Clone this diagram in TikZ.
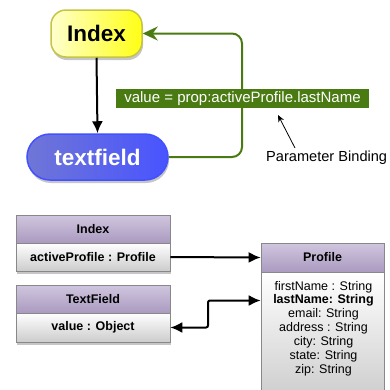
\documentclass[tikz,border=0pt]{standalone}
\usepackage{fontspec}
\setmainfont{Liberation Sans}
\usetikzlibrary{shadows,arrows.meta,calc}
\definecolor{bindgreen}{RGB}{74,122,18}
\definecolor{yelborder}{RGB}{196,196,70}
\definecolor{yelleft}{RGB}{255,255,205}
\definecolor{yelright}{RGB}{255,255,20}
\definecolor{blueleft}{RGB}{112,118,214}
\definecolor{blueright}{RGB}{72,84,255}
\definecolor{blueborder}{RGB}{66,80,255}
\definecolor{headtop}{RGB}{208,198,222}
\definecolor{headbot}{RGB}{170,154,192}
\definecolor{bodybot}{RGB}{204,204,204}
\definecolor{boxborder}{RGB}{136,136,136}
\tikzset{
  shad/.style={drop shadow={opacity=0.45, shadow xshift=1pt, shadow yshift=-3pt}},
  yelnode/.style={shad, draw=yelborder, line width=1.5pt, left color=yelleft, right color=yelright,
    rounded corners=15pt, minimum width=91pt, minimum height=47pt, inner sep=0pt,
    font=\bfseries\fontsize{22.5}{26}\selectfont},
  bluenode/.style={shad, draw=blueborder, line width=1.5pt, left color=blueleft, right color=blueright,
    rounded corners=23pt, minimum width=141pt, minimum height=46pt, inner sep=0pt, text=white,
    font=\bfseries\fontsize{22.5}{26}\selectfont},
  bindlabel/.style={fill=bindgreen, text=white, minimum width=253pt, minimum height=19pt, inner sep=0pt,
    font=\fontsize{15}{17}\selectfont},
  umlhead/.style={shad, draw=boxborder, line width=0.6pt, top color=headtop, bottom color=headbot,
    minimum width=154pt, minimum height=28pt, inner sep=0pt, font=\bfseries\fontsize{12.5}{14}\selectfont},
  umlbody/.style={shad, draw=boxborder, line width=0.6pt, top color=white, bottom color=bodybot,
    minimum width=154pt, minimum height=28pt, inner sep=0pt, font=\bfseries\fontsize{12.5}{14}\selectfont},
  attr/.style={inner sep=0pt, font=\fontsize{12.5}{14}\selectfont},
  blackarrow/.style={line width=2pt, -{Latex[length=12pt,width=11pt]}},
}
\begin{document}
\begin{tikzpicture}[x=1pt,y=-1pt]
\useasboundingbox (0,0) rectangle (390,389);
% top graph
\node[yelnode] (idx) at (96.5,33.5) {Index};
\node[bluenode] (tf) at (97.5,157) {textfield};
\draw[blackarrow] (idx.south) -- (tf.north);
\coordinate (cB) at (242,33.5);
\draw[bindgreen, line width=2pt, rounded corners=10pt, -{Stealth[length=15pt,width=14pt,inset=5pt]}]
  (tf.east) -| (cB) -- (idx.east);
\node[bindlabel] (lbl) at (242.5,98.5) {value = prop:activeProfile.lastName};
\node[anchor=west, inner sep=0pt, font=\fontsize{14.6}{17}\selectfont] (pbtext) at (266,158) {Parameter Binding};
\coordinate (pbtail) at (295,148);
\coordinate (pbhead) at (278,115);
\draw[line width=0.8pt, -{Stealth[length=7pt,width=6pt]}] (pbtail) -- (pbhead);
% UML boxes
\node[umlhead] (ih) at (93,229) {Index};
\node[umlbody, minimum height=28pt] (ib) at (93,257) {activeProfile : Profile};
\node[umlhead] (th) at (93,299) {TextField};
\node[umlbody, minimum height=29pt] (tb) at (93,327.5) {value : Object};
\node[umlhead, minimum width=123pt, minimum height=29pt] (ph) at (322.5,257.5) {Profile};
\node[umlbody, minimum width=123pt, minimum height=128pt] (pb) at (322.5,336) {};
\node[attr] (p1) at (323.5,287) {firstName : String};
\node[attr, font=\bfseries\fontsize{12.5}{14}\selectfont] (p2) at (323.5,300.5) {lastName: String};
\node[attr] (p3) at (323.5,314.5) {email: String};
\node[attr] (p4) at (323.5,328.5) {address : String};
\node[attr] (p5) at (323.5,342.5) {city: String};
\node[attr] (p6) at (323.5,356.5) {state: String};
\node[attr] (p7) at (323.5,370.5) {zip: String};
\draw[blackarrow] (ib.east) -- (ph.west);
\coordinate (pbw) at (pb.west |- p2);
\coordinate (bend) at (208,327.5);
\draw[line width=2pt, rounded corners=2pt, {Latex[length=12pt,width=11pt]}-{Latex[length=12pt,width=11pt]}]
  (tb.east) -- (bend) |- (pbw);
\end{tikzpicture}
\end{document}
